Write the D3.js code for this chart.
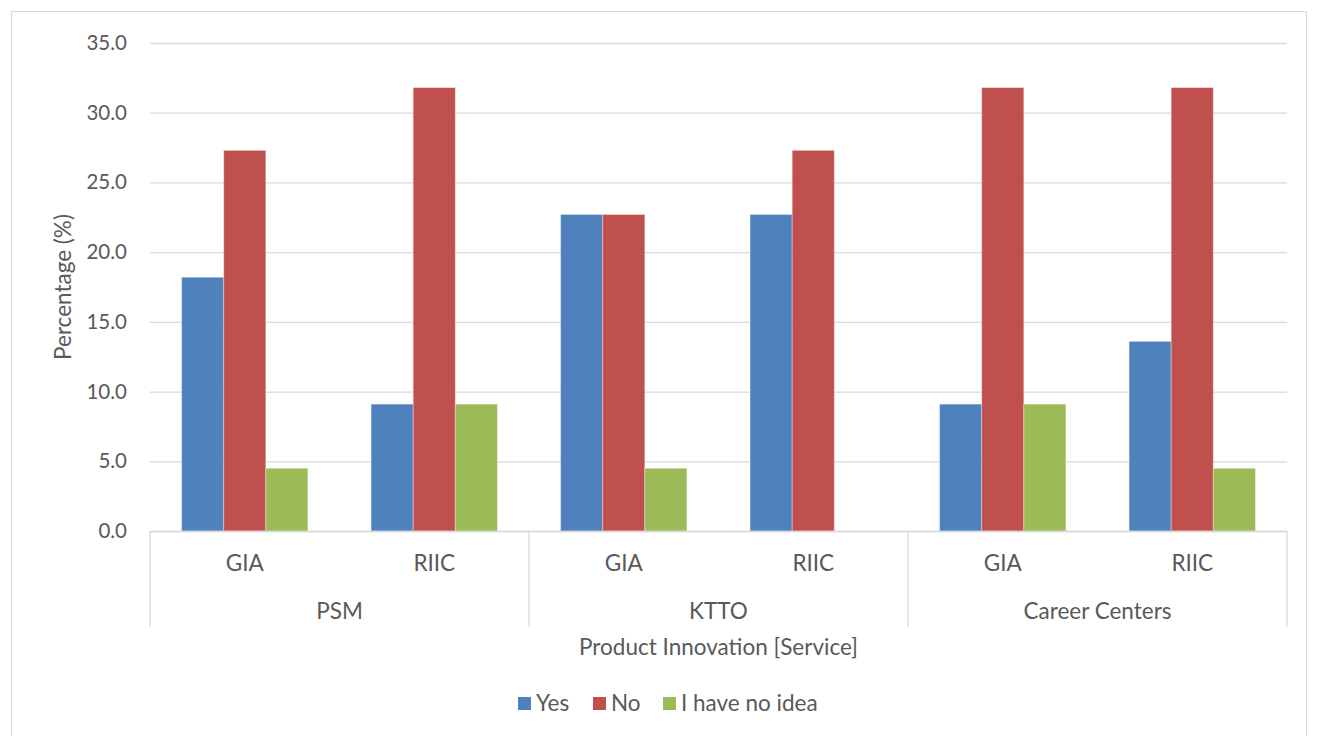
<!DOCTYPE html>
<html>
<head>
<meta charset="utf-8">
<script src="https://cdn.jsdelivr.net/npm/d3@7/dist/d3.min.js"></script>
<style>
  html, body { margin: 0; padding: 0; background: #fff; }
  svg { display: block; }
  text { font-family: "Lato", "Liberation Sans", sans-serif; fill: #595959; }
</style>
</head>
<body>
<svg id="chart" width="1317" height="736"></svg>
<script>
// Survey results: product innovation (service) by unit and institution
const groups = ["PSM", "KTTO", "Career Centers"];
const subgroups = ["GIA", "RIIC"];
const seriesNames = ["Yes", "No", "I have no idea"];
const seriesColors = ["#4f81bd", "#c0504d", "#9bbb59"];

// Values in order: PSM GIA, PSM RIIC, KTTO GIA, KTTO RIIC, Career Centers GIA, Career Centers RIIC
const yesValues  = [18.2, 9.1, 22.7, 22.7, 9.1, 13.6];
const noValues   = [27.3, 31.8, 22.7, 27.3, 31.8, 31.8];
const ideaValues = [4.5, 9.1, 4.5, 0.0, 9.1, 4.5];

const yTicks = [0, 5, 10, 15, 20, 25, 30, 35];
const yTitle = "Percentage (%)";
const xTitle = "Product Innovation [Service]";

const svg = d3.select("#chart");
const plot = { left: 150, right: 1287, top: 43, bottom: 531 };
const labelSize = 22.5;

// Outer chart frame
svg.append("rect")
  .attr("x", 11.5).attr("y", 11.5)
  .attr("width", 1295).attr("height", 740)
  .attr("fill", "#fff").attr("stroke", "#d9d9d9").attr("stroke-width", 1);

// Build category keys
const cats = [];
groups.forEach(g => subgroups.forEach(s => cats.push(g + "|" + s)));
const allSeries = [yesValues, noValues, ideaValues];

const x0 = d3.scaleBand().domain(cats).range([plot.left, plot.right]).paddingInner(0).paddingOuter(0);
const x1 = d3.scaleBand().domain(seriesNames).range([0, x0.bandwidth()]).paddingInner(0).paddingOuter(0.75);
const y = d3.scaleLinear().domain([0, 35]).range([plot.bottom, plot.top]);

// Gridlines and y tick labels
const yAxis = d3.axisLeft(y).tickValues(yTicks).tickFormat(d3.format(".1f"))
  .tickSize(-(plot.right - plot.left)).tickPadding(23);
const gy = svg.append("g").attr("transform", `translate(${plot.left},0)`).call(yAxis);
gy.select(".domain").remove();
gy.selectAll(".tick line").attr("stroke", "#d9d9d9").attr("stroke-width", 1.3);
gy.selectAll(".tick text").attr("font-size", 20.5).attr("fill", "#595959")
  .style("font-family", "Lato, sans-serif");

// Bars
const barData = [];
cats.forEach((c, i) => seriesNames.forEach((s, j) => {
  barData.push({ cat: c, series: s, value: allSeries[j][i], color: seriesColors[j] });
}));
svg.append("g").selectAll("rect").data(barData).join("rect")
  .attr("x", d => x0(d.cat) + x1(d.series))
  .attr("y", d => y(d.value))
  .attr("width", x1.bandwidth())
  .attr("height", d => y(0) - y(d.value))
  .attr("fill", d => d.color)
  .attr("stroke", d => d.value > 0 ? "#ffffff" : "none")
  .attr("stroke-opacity", 0.35)
  .attr("stroke-width", 1);

// Category axis baseline
svg.append("line")
  .attr("x1", plot.left).attr("x2", plot.right)
  .attr("y1", plot.bottom + 0.5).attr("y2", plot.bottom + 0.5)
  .attr("stroke", "#d9d9d9").attr("stroke-width", 1.3);

// Group dividers
const groupWidth = x0.bandwidth() * subgroups.length;
const dividers = d3.range(groups.length + 1).map(i => plot.left + i * groupWidth);
svg.append("g").selectAll("line").data(dividers).join("line")
  .attr("x1", d => d).attr("x2", d => d)
  .attr("y1", plot.bottom).attr("y2", 627)
  .attr("stroke", "#d9d9d9").attr("stroke-width", 1.3);

// Subgroup labels
svg.append("g").selectAll("text").data(cats).join("text")
  .attr("x", d => x0(d) + x0.bandwidth() / 2)
  .attr("y", 571)
  .attr("text-anchor", "middle")
  .attr("font-size", labelSize)
  .text(d => d.split("|")[1]);

// Group labels
svg.append("g").selectAll("text").data(groups).join("text")
  .attr("x", (d, i) => plot.left + (i + 0.5) * groupWidth)
  .attr("y", 619)
  .attr("text-anchor", "middle")
  .attr("font-size", labelSize)
  .text(d => d);

// Axis titles
svg.append("text")
  .attr("x", (plot.left + plot.right) / 2).attr("y", 655)
  .attr("text-anchor", "middle").attr("font-size", labelSize)
  .text(xTitle);

svg.append("text")
  .attr("transform", `translate(71, ${(plot.top + plot.bottom) / 2}) rotate(-90)`)
  .attr("text-anchor", "middle").attr("font-size", labelSize)
  .text(yTitle);

// Legend
const legendItems = [
  { name: seriesNames[0], color: seriesColors[0], x: 518 },
  { name: seriesNames[1], color: seriesColors[1], x: 593 },
  { name: seriesNames[2], color: seriesColors[2], x: 663 }
];
const lg = svg.append("g");
legendItems.forEach(it => {
  lg.append("rect").attr("x", it.x).attr("y", 697).attr("width", 13).attr("height", 13).attr("fill", it.color);
  lg.append("text").attr("x", it.x + 18).attr("y", 711).attr("font-size", labelSize).text(it.name);
});
</script>
</body>
</html>
